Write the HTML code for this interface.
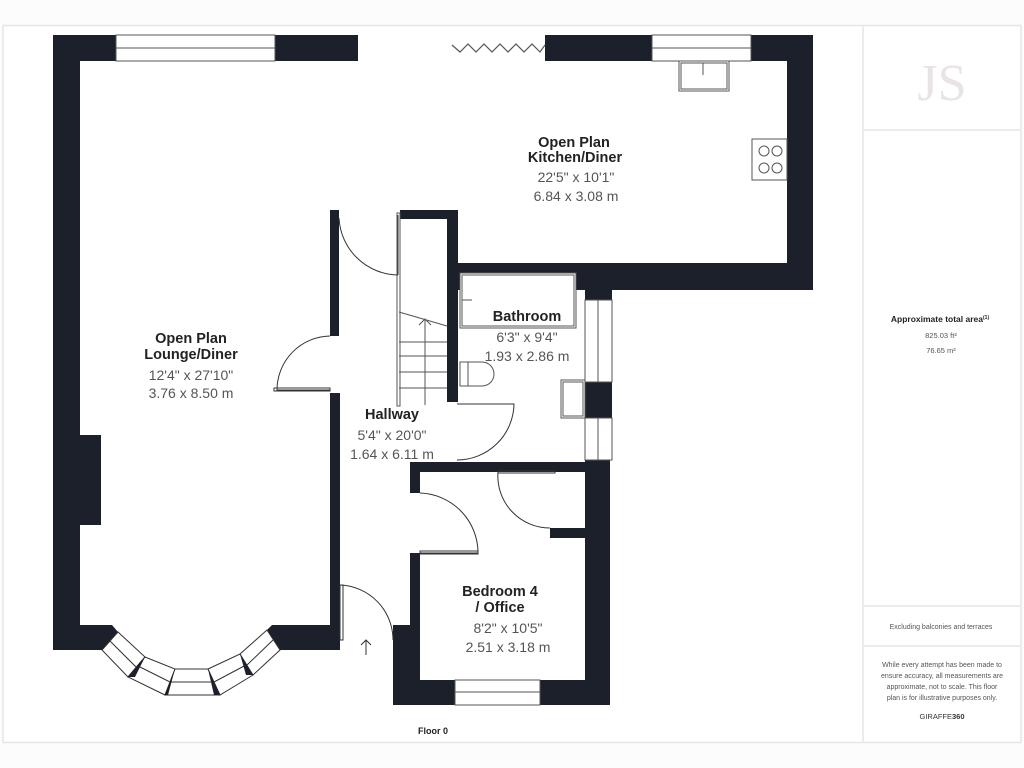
<!DOCTYPE html>
<html><head><meta charset="utf-8"><style>
html,body{margin:0;padding:0;background:#fdfcfd;}
svg{display:block;}
</style></head><body>
<svg width="1024" height="768" viewBox="0 0 1024 768" xmlns="http://www.w3.org/2000/svg" font-family="Liberation Sans, sans-serif">
<rect x="0" y="0" width="1024" height="768" fill="#fdfcfd"/>
<rect x="3" y="25.5" width="1018" height="717" fill="#fff" stroke="#e6e6ea" stroke-width="1.5"/>
<line x1="863" y1="26" x2="863" y2="742" stroke="#e6e6ea" stroke-width="1.5"/>
<line x1="863" y1="130" x2="1021" y2="130" stroke="#e6e6ea" stroke-width="1.5"/>
<line x1="863" y1="606" x2="1021" y2="606" stroke="#e6e6ea" stroke-width="1.5"/>
<line x1="863" y1="646" x2="1021" y2="646" stroke="#e6e6ea" stroke-width="1.5"/>
<g fill="#1c202b">
<!-- lounge -->
<rect x="53" y="35" width="27" height="615"/>
<rect x="53" y="35" width="305" height="26"/>
<rect x="80" y="435" width="21" height="90"/>
<polygon points="53,625 112,625 118,632 102,650 53,650"/>
<polygon points="272,625 340,625 340,650 280,650 267,630"/>
<rect x="330" y="210" width="9" height="126"/>
<rect x="330" y="393" width="10" height="257"/>
<!-- kitchen -->
<rect x="545" y="35" width="268" height="26"/>
<rect x="787" y="35" width="26" height="255"/>
<rect x="447" y="263" width="366" height="27"/>
<rect x="585" y="263" width="27" height="37"/>
<rect x="585" y="382" width="27" height="36"/>
<rect x="585" y="460" width="25" height="245"/>
<!-- stair block -->
<rect x="400" y="210" width="58" height="9"/>
<rect x="447" y="210" width="11" height="192"/>
<!-- bedroom -->
<rect x="410" y="462" width="200" height="10"/>
<rect x="410" y="462" width="10" height="31"/>
<rect x="410" y="553" width="10" height="152"/>
<rect x="393" y="625" width="27" height="80"/>
<rect x="393" y="680" width="217" height="25"/>
<rect x="550" y="528" width="35" height="10"/>
</g>
<!-- windows -->
<g fill="#fff" stroke="#555" stroke-width="1">
<rect x="116" y="35" width="159" height="26"/><line x1="116" y1="48" x2="275" y2="48"/>
<rect x="652" y="35" width="99" height="26"/><line x1="652" y1="48" x2="751" y2="48"/>
<rect x="455" y="680" width="85" height="25"/><line x1="455" y1="692" x2="540" y2="692"/>
<rect x="585" y="300" width="27" height="82"/><line x1="598" y1="300" x2="598" y2="382"/>
<rect x="585" y="418" width="27" height="42"/><line x1="598" y1="418" x2="598" y2="460"/>
</g>
<!-- zigzag -->
<polyline points="452,45 460,52 468,44 476,52 484,44 492,52 500,44 508,52 516,44 524,52 532,44 540,52 545,45" fill="none" stroke="#555" stroke-width="1.2"/>
<!-- bay window -->
<g stroke="#333" stroke-width="1" fill="#fff">
<polygon points="118,632 145,657 128,677 102,650"/>
<polygon points="145,657 175,669 165,695 128,677"/>
<polygon points="175,669 208,669 220,695 165,695"/>
<polygon points="208,669 240,654 253,675 220,695"/>
<polygon points="240,654 267,630 280,650 253,675"/>
<line x1="110" y1="641" x2="136" y2="667"/>
<line x1="140" y1="667" x2="170" y2="682"/>
<line x1="170" y1="682" x2="214" y2="682"/>
<line x1="214" y1="682" x2="246" y2="665"/>
<line x1="247" y1="665" x2="273" y2="640"/>
</g>
<g fill="#1c202b"><polygon points="145,657 135,677 128,677 140,662"/><polygon points="175,669 168,695 165,695"/><polygon points="208,669 220,695 214,695"/><polygon points="240,654 253,675 246,675"/></g>
<!-- doors -->
<g fill="none" stroke="#333" stroke-width="1">
<path d="M339,218 A 60 60 0 0 0 398,275"/>
<line x1="398" y1="215" x2="398" y2="275"/>
<path d="M330,336 A 54 54 0 0 0 277,390 L330,390"/>
<rect x="274" y="388" width="56" height="3"/>
<path d="M457,460 A 57 57 0 0 0 514,404 L457,404"/>
<path d="M420,493 A 60 60 0 0 1 478,553 L420,553"/>
<rect x="420" y="551" width="58" height="3"/>
<path d="M498,472 A 52 52 0 0 0 550,528"/>
<rect x="498" y="471" width="57" height="2"/>
<path d="M340,585 A 55 55 0 0 1 393,640"/>
<rect x="340" y="585" width="3" height="55"/>
<line x1="366" y1="640" x2="366" y2="655"/><polyline points="361,645 366,640 371,645"/>
</g>
<!-- stairs -->
<g stroke="#555" stroke-width="1" fill="none">
<rect x="397" y="213" width="3" height="193"/>
<line x1="399" y1="312" x2="447" y2="326"/>
<line x1="399" y1="342" x2="447" y2="342"/><line x1="399" y1="356" x2="447" y2="356"/>
<line x1="399" y1="372" x2="447" y2="372"/><line x1="399" y1="388" x2="447" y2="388"/>
<line x1="425" y1="320" x2="425" y2="405"/><polyline points="419,325 425,319 431,325"/>
</g>
<!-- bathroom fixtures -->
<g stroke="#555" stroke-width="1" fill="#fff">
<rect x="460" y="273" width="116" height="55"/><rect x="462" y="275" width="112" height="51" fill="none"/>
<line x1="462" y1="300" x2="472" y2="300"/>
<path d="M460,362 L482,362 A 12 12 0 0 1 482,386 L460,386 Z"/><line x1="468" y1="362" x2="468" y2="386"/>
<rect x="561" y="380" width="24" height="38"/><rect x="563" y="382" width="20" height="34" fill="none"/>
<rect x="679" y="61" width="50" height="30"/><rect x="681" y="63" width="46" height="26" fill="none"/><line x1="703" y1="63" x2="703" y2="75"/>
<rect x="752" y="139" width="35" height="41"/>
<circle cx="764" cy="151" r="5"/><circle cx="777" cy="151" r="5"/><circle cx="764" cy="168" r="5"/><circle cx="777" cy="168" r="5"/>
</g>
<!-- labels -->
<g text-anchor="middle" fill="#222">
<g font-weight="bold" font-size="14.5"><text x="574" y="147">Open Plan</text><text x="575" y="162">Kitchen/Diner</text>
<text x="191" y="343">Open Plan</text><text x="191" y="359">Lounge/Diner</text>
<text x="392" y="419">Hallway</text><text x="527" y="321">Bathroom</text>
<text x="500" y="596">Bedroom 4</text><text x="500" y="612">/ Office</text></g>
<g font-size="14" fill="#555"><text x="576" y="182">22'5" x 10'1"</text><text x="576" y="201">6.84 x 3.08 m</text>
<text x="191" y="380">12'4" x 27'10"</text><text x="191" y="398">3.76 x 8.50 m</text>
<text x="392" y="440">5'4" x 20'0"</text><text x="392" y="459">1.64 x 6.11 m</text>
<text x="527" y="342">6'3" x 9'4"</text><text x="527" y="361">1.93 x 2.86 m</text>
<text x="508" y="633">8'2" x 10'5"</text><text x="508" y="652">2.51 x 3.18 m</text></g>
<text x="433" y="734" font-size="9" font-weight="bold">Floor 0</text>
<g font-size="8.5"><text x="940" y="322" font-weight="bold">Approximate total area<tspan font-size="5" dy="-3">(1)</tspan></text>
<text x="941" y="338" fill="#555" font-size="7.5">825.03 ft²</text><text x="941" y="353" fill="#555" font-size="7.5">76.65 m²</text>
<text x="941" y="629" fill="#555" font-size="7">Excluding balconies and terraces</text>
<g fill="#555" font-size="7"><text x="942" y="667">While every attempt has been made to</text><text x="942" y="678">ensure accuracy, all measurements are</text><text x="942" y="689">approximate, not to scale. This floor</text><text x="942" y="700">plan is for illustrative purposes only.</text></g>
<text x="942" y="719" font-size="7.5" fill="#333">GIRAFFE<tspan font-weight="bold">360</tspan></text></g>
<text x="942" y="100" font-family="Liberation Serif, serif" font-size="52" fill="#e8e4e6">JS</text>
</g>
</svg>
</body></html>
